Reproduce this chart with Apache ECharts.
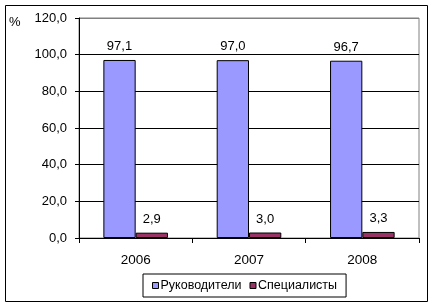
<!DOCTYPE html>
<html><head><meta charset="utf-8">
<script src="https://cdn.jsdelivr.net/npm/echarts@6/dist/echarts.min.js"></script>
<style>html,body{margin:0;padding:0;background:#fff}#c{width:434px;height:307px}</style>
</head><body><div id="c"></div>
<script>
const categories = ['2006', '2007', '2008'];
const managers = [97.1, 97.0, 96.7];
const specialists = [2.9, 3.0, 3.3];
const seriesNames = ['Руководители', 'Специалисты'];
const fmt = v => v.toFixed(1).replace('.', ',');
const FONT = 'Liberation Sans, Arial, sans-serif';
const chart = echarts.init(document.getElementById('c'), null, {renderer: 'canvas'});
chart.setOption({
  animation: false,
  textStyle: {fontFamily: FONT},
  graphic: [
    {type: 'rect', shape: {x: 5.5, y: 5.5, width: 422, height: 296}, style: {fill: 'none', stroke: '#000', lineWidth: 1}, z: -1},
    {type: 'text', left: 9, top: 16, style: {text: '%', font: '13px ' + FONT, fill: '#000'}}
  ],
  grid: {left: 79, right: 15, top: 18, bottom: 69, show: true, borderColor: '#808080', borderWidth: 1, backgroundColor: '#fff'},
  legend: {
    left: 143, top: 274,
    backgroundColor: '#fff', borderColor: '#000', borderWidth: 1,
    padding: [5, 9, 5, 9], itemGap: 8, itemWidth: 6, itemHeight: 6,
    icon: 'rect',
    itemStyle: {borderColor: '#000', borderWidth: 1},
    textStyle: {fontSize: 12.5, color: '#000', fontFamily: FONT, padding: [0, 0, 0, -3]},
    data: seriesNames
  },
  xAxis: {
    type: 'category', data: categories,
    axisLine: {lineStyle: {color: '#000'}},
    axisTick: {show: true, length: 5, inside: false, lineStyle: {color: '#000'}},
    axisLabel: {color: '#000', fontSize: 13.5, margin: 15, fontFamily: FONT}
  },
  yAxis: {
    type: 'value', min: 0, max: 120, interval: 20,
    axisLine: {show: true, lineStyle: {color: '#000'}},
    axisTick: {show: true, length: 4, lineStyle: {color: '#000'}},
    axisLabel: {color: '#000', fontSize: 13, margin: 12, formatter: v => fmt(v), fontFamily: FONT},
    splitLine: {show: true, lineStyle: {color: ['#000', '#000', '#000', '#000', '#000', '#000', '#808080']}}
  },
  series: [
    {name: seriesNames[0], type: 'bar', data: managers, barGap: '0%', barCategoryGap: '43%',
     itemStyle: {color: '#9999FF', borderColor: '#000', borderWidth: 1},
     label: {show: true, position: 'top', distance: 7, color: '#000', fontSize: 13, fontFamily: FONT, formatter: p => fmt(p.value)}},
    {name: seriesNames[1], type: 'bar', data: specialists,
     itemStyle: {color: '#993366', borderColor: '#000', borderWidth: 1},
     label: {show: true, position: 'top', distance: 7, color: '#000', fontSize: 13, fontFamily: FONT, formatter: p => fmt(p.value)}}
  ]
});
</script></body></html>
